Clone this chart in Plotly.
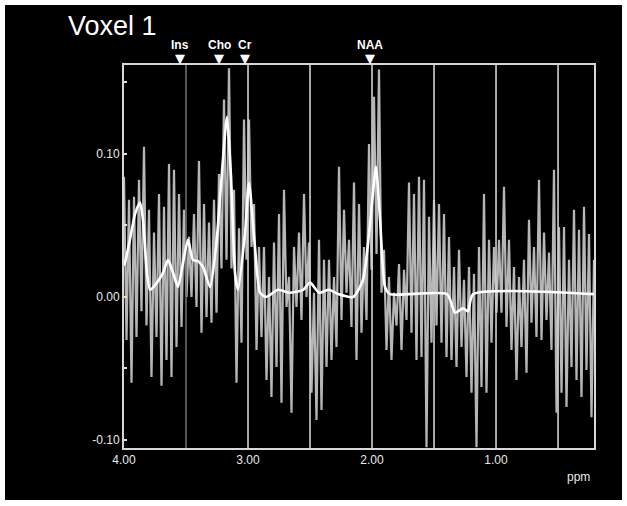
import numpy as np
import plotly.graph_objects as go

# ---------------- data ----------------
# raw spectrum envelope sampled along the ppm axis (upper / lower excursions)
spec_hi = [0.084, 0.068, 0.070, 0.082, 0.105, 0.061, 0.045, 0.072, 0.063, 0.093,
           0.089, 0.072, 0.061, 0.042, 0.058, 0.095, 0.065, 0.052, 0.068, 0.086,
           0.138, 0.160, 0.075, 0.048, 0.124, 0.124, 0.065, 0.035, 0.035, 0.014,
           0.038, 0.058, 0.075, 0.014, 0.035, 0.045, 0.072, 0.038, 0.003, 0.040,
           0.026, 0.026, 0.014, 0.091, 0.061, 0.040, 0.080, 0.065, 0.035, 0.107,
           0.140, 0.159, 0.033, 0.014, 0.003, 0.023, 0.019, 0.080, 0.072, 0.084,
           0.082, 0.056, 0.068, 0.065, 0.058, 0.042, 0.021, 0.033, 0.012, 0.021,
           0.016, 0.035, 0.072, 0.040, 0.035, 0.040, 0.077, 0.040, 0.021, 0.014,
           0.026, 0.054, 0.035, 0.082, 0.045, 0.031, 0.089, 0.049, 0.049, 0.026,
           0.061, 0.047, 0.063, 0.044, 0.026]
spec_lo = [-0.030, -0.060, -0.028, -0.010, -0.020, -0.056, -0.028, -0.062, -0.044, -0.056,
           -0.035, -0.021, 0.000, 0.000, -0.007, -0.025, -0.014, -0.018, -0.011, 0.020,
           0.026, 0.020, -0.060, -0.032, 0.026, 0.035, -0.037, -0.028, -0.058, -0.070,
           -0.049, -0.074, -0.007, -0.081, -0.007, -0.016, 0.000, -0.067, -0.086, -0.079,
           -0.049, -0.044, -0.035, -0.016, 0.003, -0.021, -0.044, -0.025, -0.016, 0.019,
           0.030, 0.003, -0.037, -0.044, -0.020, -0.037, -0.016, -0.025, -0.044, -0.042,
           -0.105, -0.032, -0.020, -0.032, -0.042, -0.044, -0.049, -0.035, -0.056, -0.067,
           -0.105, -0.063, -0.067, -0.032, -0.011, -0.011, -0.021, -0.037, -0.058, -0.035,
           -0.053, -0.018, -0.028, -0.030, -0.016, -0.037, -0.081, -0.067, -0.077, -0.049,
           -0.058, -0.070, -0.051, -0.084, -0.040]
spec_ppm = np.linspace(4.0, 0.21, len(spec_hi))

# fitted model curve
fit_ppm = [4.000, 3.992, 3.952, 3.911, 3.871, 3.847, 3.815, 3.790, 3.734, 3.685,
           3.645, 3.605, 3.565, 3.524, 3.484, 3.444, 3.403, 3.363, 3.306, 3.258,
           3.202, 3.169, 3.137, 3.105, 3.081, 3.024, 2.992, 2.944, 2.903, 2.855,
           2.758, 2.669, 2.556, 2.500, 2.427, 2.347, 2.274, 2.153, 2.073, 2.000,
           1.968, 1.935, 1.895, 1.855, 1.395, 1.331, 1.266, 1.226, 1.185, 0.210]
fit_val = [0.022, 0.024, 0.040, 0.058, 0.066, 0.054, 0.017, 0.005, 0.010, 0.017,
           0.026, 0.017, 0.007, 0.024, 0.040, 0.026, 0.025, 0.021, 0.007, 0.035,
           0.096, 0.126, 0.084, 0.017, 0.005, 0.045, 0.080, 0.035, 0.003, 0.000,
           0.005, 0.003, 0.005, 0.010, 0.003, 0.005, 0.002, 0.000, 0.012, 0.066,
           0.091, 0.054, 0.007, 0.002, 0.002, -0.011, -0.008, -0.010, 0.002, 0.002]

grid_dim = [3.5]
grid_bright = [3.0, 2.5, 2.0, 1.5, 1.0, 0.5]

metab_names = ["Ins", "Cho", "Cr", "NAA"]
metab_ppm = [3.55, 3.23, 3.025, 2.015]

xtick_vals = [4.0, 3.0, 2.0, 1.0]
xtick_text = ["4.00", "3.00", "2.00", "1.00"]
ytick_vals = [-0.10, -0.05, 0.0, 0.05, 0.10, 0.15]
ytick_text = ["-0.10", "", "0.00", "", "0.10", ""]

title_text = "Voxel 1"
unit_text = "ppm"

# ---------------- figure ----------------
X_RANGE = [4.0, 0.21]
Y_RANGE = [-0.1056, 0.1622]
FONT = "Liberation Sans, Arial, sans-serif"
TXT = "#e8e8e8"

half = (spec_ppm[1] - spec_ppm[0]) / 2
zx, zy = [], []
for p, h, l in zip(spec_ppm, spec_hi, spec_lo):
    zx += [p, p + half]
    zy += [h, l]

fig = go.Figure()

fig.add_trace(go.Scatter(x=zx, y=zy, mode="lines",
                         line=dict(color="#b6b6b6", width=2.2),
                         hoverinfo="skip", showlegend=False))


def vlines(vals):
    xs, ys = [], []
    for v in vals:
        xs += [v, v, None]
        ys += [Y_RANGE[0], Y_RANGE[1], None]
    return xs, ys


gx, gy = vlines(grid_dim)
fig.add_trace(go.Scatter(x=gx, y=gy, mode="lines", line=dict(color="#6e6e6e", width=1.6),
                         hoverinfo="skip", showlegend=False))
gx, gy = vlines(grid_bright)
fig.add_trace(go.Scatter(x=gx, y=gy, mode="lines", line=dict(color="#d2d2d2", width=1.6),
                         hoverinfo="skip", showlegend=False))

fig.add_trace(go.Scatter(x=fit_ppm, y=fit_val, mode="lines",
                         line=dict(color="white", width=2.6, shape="spline", smoothing=0.6),
                         hoverinfo="skip", showlegend=False))

# metabolite markers above the frame
for name, p in zip(metab_names, metab_ppm):
    fig.add_annotation(x=p, y=1.0, xref="x", yref="paper", text="▼",
                       showarrow=False, xanchor="center", yanchor="bottom", yshift=-3,
                       font=dict(family="DejaVu Sans", size=13, color="white"))
    fig.add_annotation(x=p, y=1.052, xref="x", yref="paper", text=f"<b>{name}</b>",
                       showarrow=False, xanchor="center", yanchor="middle",
                       font=dict(family=FONT, size=12, color="white"))

fig.add_annotation(x=0.966, y=-0.076, xref="paper", yref="paper", text=unit_text,
                   showarrow=False, xanchor="center", yanchor="middle",
                   font=dict(family=FONT, size=12, color=TXT))

# black panel inside a thin white border
fig.add_shape(type="rect", xref="paper", yref="paper",
              x0=-0.2532, x1=1.0596, y0=-0.1358, y1=1.1567,
              fillcolor="black", line=dict(width=0), layer="below")

fig.update_layout(
    width=627, height=506,
    margin=dict(l=124, r=33, t=65, b=58),
    paper_bgcolor="white", plot_bgcolor="black",
    hovermode=False,
    title=dict(text=title_text, x=68 / 627, xanchor="left", y=1 - 26 / 506, yanchor="middle",
               xref="container", yref="container",
               font=dict(family=FONT, size=27, color="white")),
    xaxis=dict(range=X_RANGE, showgrid=False, zeroline=False,
               showline=True, mirror=True, linecolor="#d8d8d8", linewidth=2,
               tickvals=xtick_vals, ticktext=xtick_text, ticks="",
               tickfont=dict(family=FONT, size=12, color=TXT)),
    yaxis=dict(range=Y_RANGE, showgrid=False, zeroline=False,
               showline=True, mirror=True, linecolor="#d8d8d8", linewidth=2,
               tickvals=ytick_vals, ticktext=ytick_text, ticks="inside", ticklen=3,
               tickcolor="#e0e0e0", tickwidth=2,
               tickfont=dict(family=FONT, size=12, color=TXT)),
    font=dict(family=FONT),
)

fig.write_html("out.html", config={"displayModeBar": False},
               post_script="document.body.style.margin='0';")
